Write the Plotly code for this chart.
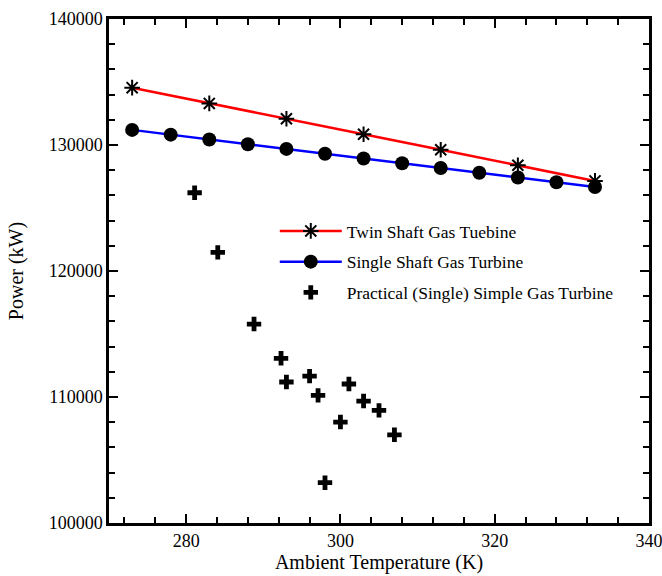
import plotly.graph_objects as go

# Data
twin_T = [273, 283, 293, 303, 313, 323, 333]
twin_P = [134550, 133300, 132080, 130850, 129620, 128390, 127150]

single_T = [273, 278, 283, 288, 293, 298, 303, 308, 313, 318, 323, 328, 333]
single_P = [131200, 130820, 130440, 130060, 129690, 129310, 128930,
            128550, 128170, 127800, 127420, 127040, 126670]

prac_T = [281.1, 284.1, 288.8, 292.3, 293.0, 296.0, 297.1, 301.1, 303.0,
          305.0, 300.0, 307.0, 298.0]
prac_P = [126210, 121480, 115790, 113070, 111190, 111660, 110130, 111030,
          109680, 108940, 108010, 107000, 103200]

FONT = "Liberation Serif"

fig = go.Figure()
fig.add_trace(go.Scatter(
    x=twin_T, y=twin_P, mode="lines+markers", name="Twin Shaft Gas Tuebine",
    line=dict(color="#ff0000", width=2.5),
    marker=dict(symbol="asterisk-open", size=13, color="black",
                line=dict(color="black", width=2)),
    legendgroup="a"))
fig.add_trace(go.Scatter(
    x=single_T, y=single_P, mode="lines+markers", name="Single Shaft Gas Turbine",
    line=dict(color="#0000ff", width=2.5),
    marker=dict(symbol="circle", size=14, color="black"),
    legendgroup="b"))
fig.add_trace(go.Scatter(
    x=prac_T, y=prac_P, mode="markers", name="Practical (Single) Simple Gas Turbine",
    marker=dict(symbol="cross", size=12, color="black"),
    legendgroup="c"))

axis_common = dict(
    showline=True, linecolor="black", linewidth=2.5, mirror="allticks",
    ticks="inside", ticklen=9, tickwidth=2, tickcolor="black",
    showgrid=False, zeroline=False, automargin=False,
    ticklabeloverflow="allow",
    tickfont=dict(family=FONT, size=18, color="black"),
)

fig.update_xaxes(
    range=[270, 340], tick0=280, dtick=20,
    minor=dict(ticks="inside", dtick=4, ticklen=6, tickwidth=2, tickcolor="black", showgrid=False),
    title=dict(text="Ambient Temperature (K)", font=dict(family=FONT, size=20, color="black"), standoff=3),
    **axis_common)
fig.update_yaxes(
    range=[100000, 140000], tick0=100000, dtick=10000, tickformat="d",
    minor=dict(ticks="inside", dtick=2000, ticklen=6, tickwidth=2, tickcolor="black", showgrid=False),
    title=dict(text="Power (kW)", font=dict(family=FONT, size=20, color="black"), standoff=20),
    **axis_common)

fig.update_layout(
    width=662, height=576,
    margin=dict(l=109, r=13, t=19, b=53),
    paper_bgcolor="white", plot_bgcolor="white",
    font=dict(family=FONT, color="black"),
    legend=dict(x=0.307, y=0.615, xanchor="left", yanchor="top",
                font=dict(family=FONT, size=17.5, color="black"),
                bgcolor="rgba(0,0,0,0)", tracegroupgap=5, itemwidth=62),
    showlegend=True,
)

fig.write_html("out.html")
